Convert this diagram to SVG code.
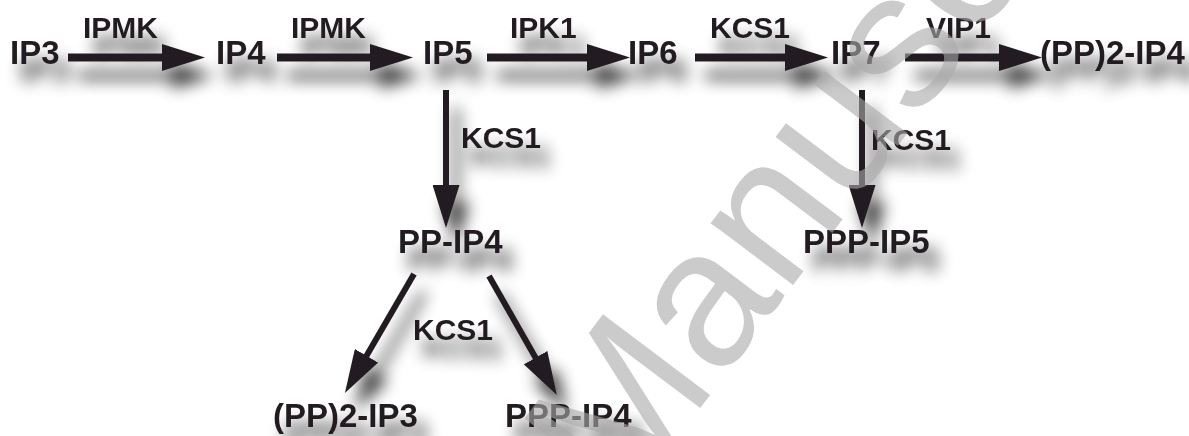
<svg xmlns="http://www.w3.org/2000/svg" width="1189" height="436" viewBox="0 0 1189 436">
<defs>
<style>
.node{font-family:"Liberation Sans",Arial,sans-serif;font-weight:bold;font-size:33px;fill:#231f20}
.lbl{font-family:"Liberation Sans",Arial,sans-serif;font-weight:bold;font-size:30px;fill:#231f20}
.h{stroke:#231f20;stroke-width:8;fill:none}
.v{stroke:#231f20;stroke-width:6;fill:none}
.wm{font-family:"Liberation Sans",Arial,sans-serif;font-size:195px;fill:#aaaaaa;opacity:0.6}
</style>
<marker id="ah" markerUnits="userSpaceOnUse" viewBox="0 0 43 27" markerWidth="43" markerHeight="27" refX="13" refY="13.5" orient="auto">
<path d="M0,0 L43,13.5 L0,27 z" fill="#231f20"/>
</marker>
<filter id="sh" filterUnits="userSpaceOnUse" x="-50" y="-50" width="1300" height="540">
<feGaussianBlur in="SourceAlpha" stdDeviation="8" result="b"/>
<feOffset in="b" dx="10" dy="18" result="o"/>
<feComponentTransfer in="o" result="s"><feFuncA type="linear" slope="0.75"/></feComponentTransfer>
<feMerge><feMergeNode in="s"/><feMergeNode in="SourceGraphic"/></feMerge>
</filter>
</defs>
<rect width="1189" height="436" fill="#ffffff"/>
<g filter="url(#sh)">
<g id="connectors">
<line class="h" x1="68" y1="57.5" x2="175" y2="57.5" marker-end="url(#ah)"/>
<line class="h" x1="277" y1="57.5" x2="383" y2="57.5" marker-end="url(#ah)"/>
<line class="h" x1="487" y1="57.5" x2="600" y2="57.5" marker-end="url(#ah)"/>
<line class="h" x1="695" y1="57.5" x2="798" y2="57.5" marker-end="url(#ah)"/>
<line class="h" x1="905" y1="57.5" x2="1012" y2="57.5" marker-end="url(#ah)"/>
<line class="v" x1="446" y1="90" x2="446" y2="198" marker-end="url(#ah)"/>
<line class="v" x1="862" y1="90" x2="862" y2="198" marker-end="url(#ah)"/>
<line class="v" x1="414" y1="274" x2="360" y2="367" marker-end="url(#ah)"/>
<line class="v" x1="489" y1="276" x2="542" y2="369" marker-end="url(#ah)"/>
<text class="lbl" x="83" y="38">IPMK</text>
<text class="lbl" x="291" y="38">IPMK</text>
<text class="lbl" x="510" y="38">IPK1</text>
<text class="lbl" x="710" y="38">KCS1</text>
<text class="lbl" x="926" y="38">VIP1</text>
<text class="lbl" x="461" y="148">KCS1</text>
<text class="lbl" x="871" y="150">KCS1</text>
<text class="lbl" x="413" y="340">KCS1</text>
</g>
<g id="IP3"><text class="node" x="10" y="64">IP3</text></g>
<g id="IP4"><text class="node" x="216" y="64">IP4</text></g>
<g id="IP5"><text class="node" x="423" y="64">IP5</text></g>
<g id="IP6"><text class="node" x="628" y="64">IP6</text></g>
<g id="IP7"><text class="node" x="831" y="64">IP7</text></g>
<g id="PP2-IP4"><text class="node" x="1040" y="64">(PP)2-IP4</text></g>
<g id="PP-IP4"><text class="node" x="398" y="253">PP-IP4</text></g>
<g id="PPP-IP5"><text class="node" x="803" y="253">PPP-IP5</text></g>
<g id="PP2-IP3"><text class="node" x="273" y="427">(PP)2-IP3</text></g>
<g id="PPP-IP4"><text class="node" x="505" y="427">PPP-IP4</text></g>
</g>
<text class="wm" transform="translate(622,512) rotate(-53)">Manuscript</text>
</svg>
